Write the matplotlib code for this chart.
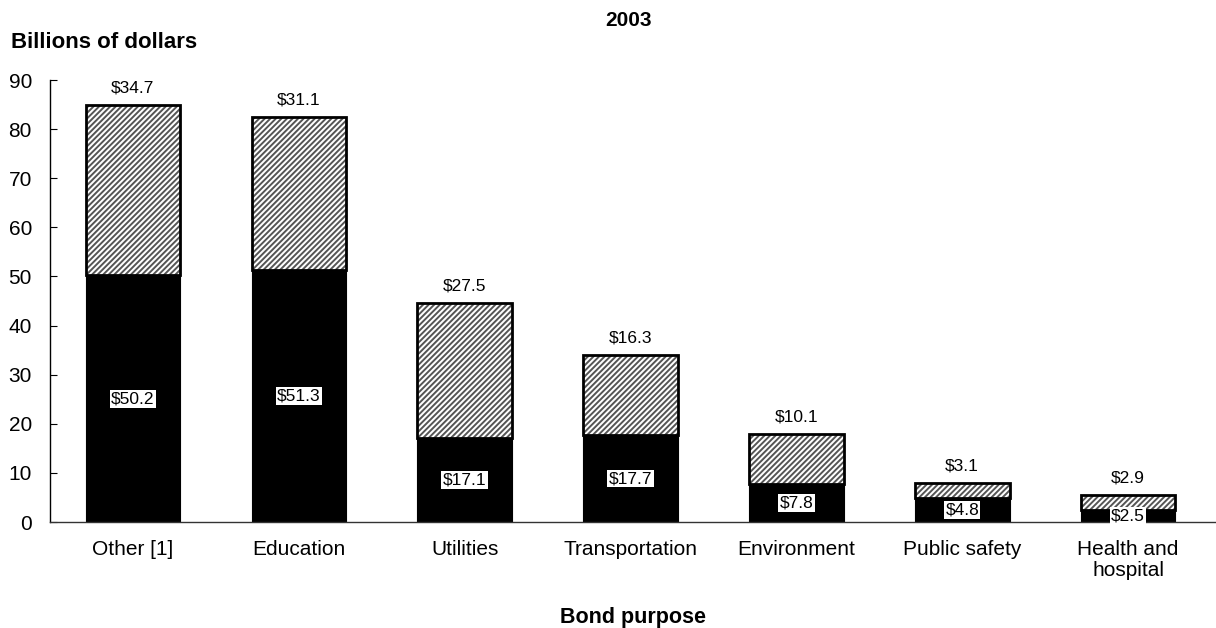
import matplotlib
matplotlib.use("Agg")
import matplotlib.pyplot as plt
import numpy as np

plt.rcParams['font.family'] = ['Liberation Sans', 'DejaVu Sans']
plt.rcParams['hatch.linewidth'] = 1.4

categories = ["Other [1]", "Education", "Utilities", "Transportation",
              "Environment", "Public safety", "Health and\nhospital"]
lower_values = [50.2, 51.3, 17.1, 17.7, 7.8, 4.8, 2.5]
upper_values = [34.7, 31.1, 27.5, 16.3, 10.1, 3.1, 2.9]
y_ticks = [0, 10, 20, 30, 40, 50, 60, 70, 80, 90]

fig = plt.figure(figsize=(12.16, 6.28), dpi=100)
ax = fig.add_axes([50 / 1216, 1 - 522 / 628, 1 - 50 / 1216, (522 - 80) / 628])

x = np.arange(len(categories))
width = 0.57
lower = np.array(lower_values)
upper = np.array(upper_values)

ax.bar(x, lower, width, color="black", edgecolor="black", linewidth=0.8, zorder=2)
ax.bar(x, upper, width, bottom=lower, color="white", edgecolor="#555555",
       hatch="//////", linewidth=0, zorder=2)
ax.bar(x, upper, width, bottom=lower, fill=False, edgecolor="black",
       linewidth=2, zorder=3)

for xi, lo, up in zip(x, lower, upper):
    ax.text(xi, lo + up + 2.0, f"${up:.1f}", ha="center", va="bottom", fontsize=12.5)
    ax.text(xi, lo / 2, f"${lo:.1f}", ha="center", va="center", fontsize=12.5,
            bbox=dict(facecolor="white", edgecolor="none", pad=1.0), zorder=4)

ax.set_xlim(-0.5, len(categories) - 0.5 + 0.03)
ax.set_ylim(0, 90)
ax.set_yticks(y_ticks)
ax.set_xticks(x)
ax.set_xticklabels(categories, fontsize=15, linespacing=1.1)
ax.tick_params(axis="x", length=0, pad=13)
ax.tick_params(axis="y", direction="in", length=5, pad=13, labelsize=15)
for side in ("top", "right"):
    ax.spines[side].set_visible(False)
ax.spines["left"].set_linewidth(1.0)
ax.spines["bottom"].set_linewidth(1.0)
ax.spines["bottom"].set_color("#333333")

fig.text(628 / 1216, 1 - 20 / 628, "2003", ha="center", va="center",
         fontsize=15, fontweight="bold")
fig.text(11 / 1216, 1 - 42 / 628, "Billions of dollars", ha="left", va="center",
         fontsize=16, fontweight="bold")
fig.text(633 / 1216, 1 - 617 / 628, "Bond purpose", ha="center", va="center",
         fontsize=15.5, fontweight="bold")

fig.savefig("out.png", dpi=100)
